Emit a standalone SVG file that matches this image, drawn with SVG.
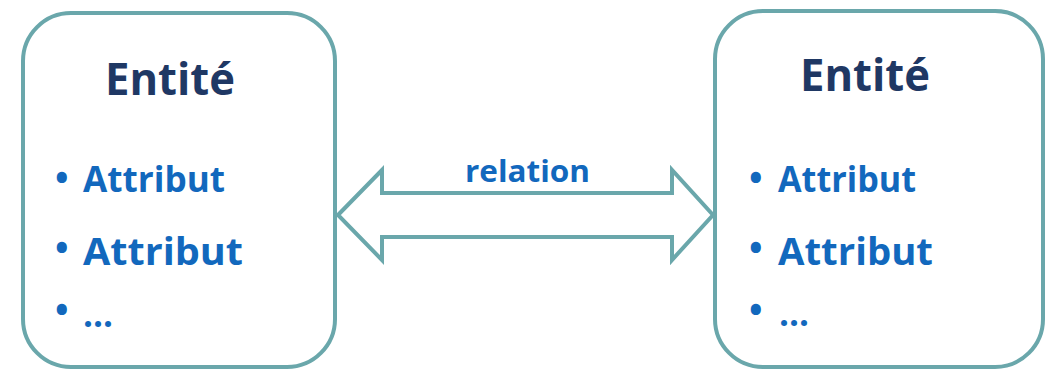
<svg xmlns="http://www.w3.org/2000/svg" width="1048" height="371" viewBox="0 0 1048 371">
<style>
.box{fill:#ffffff;stroke:#6aa7ab;stroke-width:4}
.arrow{fill:#ffffff;stroke:#6aa7ab;stroke-width:4;stroke-linejoin:miter}
.title{font-family:"Open Sans","Noto Sans",sans-serif;font-weight:bold;font-size:45px;fill:#1f3864}
.attr{font-family:"Open Sans","Noto Sans",sans-serif;font-weight:bold;font-size:36px;fill:#1268bd}
.rel{font-family:"Open Sans","Noto Sans",sans-serif;font-weight:bold;font-size:30px;fill:#1268bd}
</style>
<rect width="1048" height="371" fill="#ffffff"/>
<g id="connectors">
<polygon class="arrow" points="338,215 382,170 382,193 672,193 672,170 713,215 672,260 672,237 382,237 382,260"/>
<text class="rel" x="465" y="182" textLength="125" lengthAdjust="spacingAndGlyphs">relation</text>
</g>
<g id="entity-left">
<rect class="box" x="23" y="13" width="312" height="354" rx="48"/>
<text class="title" x="105" y="95" textLength="130" lengthAdjust="spacingAndGlyphs">Entité</text>
<text class="attr" x="55" y="191">•</text>
<text class="attr" x="83" y="192" textLength="142" lengthAdjust="spacingAndGlyphs">Attribut</text>
<text class="attr" x="55" y="261">•</text>
<text class="attr" x="83" y="265" textLength="160" lengthAdjust="spacingAndGlyphs" style="font-size:38px">Attribut</text>
<text class="attr" x="55" y="323">•</text>
<text class="attr" x="83" y="327" textLength="30" lengthAdjust="spacingAndGlyphs">…</text>
</g>
<g id="entity-right">
<rect class="box" x="715" y="11" width="328" height="356" rx="48"/>
<text class="title" x="800" y="91" textLength="130" lengthAdjust="spacingAndGlyphs">Entité</text>
<text class="attr" x="749" y="191">•</text>
<text class="attr" x="778" y="192" textLength="138" lengthAdjust="spacingAndGlyphs">Attribut</text>
<text class="attr" x="749" y="261">•</text>
<text class="attr" x="778" y="265" textLength="155" lengthAdjust="spacingAndGlyphs" style="font-size:38px">Attribut</text>
<text class="attr" x="749" y="323">•</text>
<text class="attr" x="779" y="326" textLength="30" lengthAdjust="spacingAndGlyphs">…</text>
</g>
</svg>
